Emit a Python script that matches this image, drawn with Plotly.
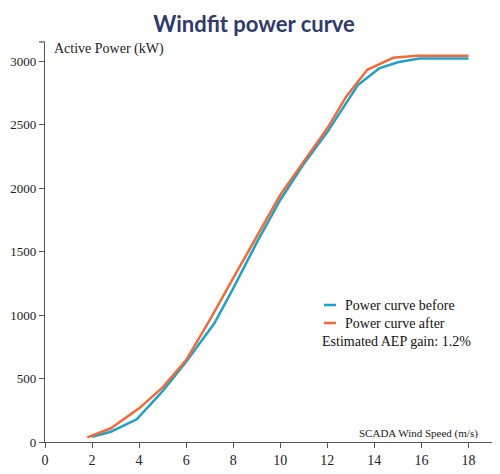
import plotly.graph_objects as go

wind_before = [2.0, 2.8, 3.9, 5.0, 6.0, 7.2, 8.0, 9.0, 10.0, 11.0, 12.0, 13.3, 14.2, 15.0, 15.9, 18.0]
power_before = [42, 81, 179, 400, 632, 935, 1210, 1570, 1906, 2190, 2440, 2811, 2942, 2990, 3020, 3020]

wind_after = [1.8, 2.8, 4.0, 5.0, 6.0, 7.0, 8.0, 9.0, 10.0, 11.0, 12.0, 12.8, 13.7, 14.8, 15.8, 18.0]
power_after = [37, 108, 265, 430, 645, 960, 1290, 1620, 1945, 2210, 2470, 2720, 2931, 3026, 3042, 3042]

x_ticks = [0, 2, 4, 6, 8, 10, 12, 14, 16, 18]
y_ticks = [0, 500, 1000, 1500, 2000, 2500, 3000]

BLUE = "#1fa2c7"
ORANGE = "#f26a3a"
AXIS = "#555555"
SERIF = "Liberation Serif"

OFF = 8  # page body margin
W, H = 500 - OFF, 474 - OFF
ML, MR, MT, MB = 45 - OFF, 16 - OFF, 42 - OFF, 32
PW, PH = W - ML - MR, H - MT - MB


def px(x):
    return (x - OFF - ML) / PW


def py(y):
    return (H - MB - (y - OFF)) / PH


fig = go.Figure()
fig.add_trace(go.Scatter(x=wind_before, y=power_before, mode="lines", name="Power curve before",
                         line=dict(color=BLUE, width=2.5), showlegend=False))
fig.add_trace(go.Scatter(x=wind_after, y=power_after, mode="lines", name="Power curve after",
                         line=dict(color=ORANGE, width=2.5), showlegend=False))

fig.update_layout(
    width=W, height=H,
    margin=dict(l=ML, r=MR, t=MT, b=MB, autoexpand=False),
    paper_bgcolor="white", plot_bgcolor="white",
    font=dict(family=SERIF, color="#222"),
    title=dict(text="<b>Windfit power curve</b>", x=0.5, xanchor="center", y=1 - (24 - OFF) / H,
               yanchor="middle", font=dict(family="Lato", size=22, color="#2e3b6b")),
    xaxis=dict(range=[0, 19], tickvals=x_ticks, showgrid=False, zeroline=False, showline=True,
               linecolor=AXIS, linewidth=1.2, ticks="outside", ticklen=5, tickcolor=AXIS,
               automargin=False, tickfont=dict(family=SERIF, size=14, color="#222")),
    yaxis=dict(range=[0, 3150], tickvals=y_ticks, showgrid=False, zeroline=False, showline=True,
               linecolor=AXIS, linewidth=1.2, ticks="outside", ticklen=5, tickcolor=AXIS,
               ticklabelstandoff=0,
               automargin=False, tickfont=dict(family=SERIF, size=13, color="#222")),
    shapes=[
        dict(type="line", xref="paper", yref="paper", x0=-6 / PW, x1=0, y0=1, y1=1,
             line=dict(color=AXIS, width=1.2)),
        dict(type="line", xref="paper", yref="paper", x0=px(324), x1=px(336), y0=py(305), y1=py(305),
             line=dict(color=BLUE, width=2.5)),
        dict(type="line", xref="paper", yref="paper", x0=px(324), x1=px(336), y0=py(323), y1=py(323),
             line=dict(color=ORANGE, width=2.5)),
    ],
    annotations=[
        dict(text="Active Power (kW)", xref="paper", yref="paper", x=px(52), y=py(49),
             xanchor="left", yanchor="middle", showarrow=False,
             font=dict(family=SERIF, size=14, color="#222")),
        dict(text="SCADA Wind Speed (m/s)", xref="paper", yref="paper", x=px(480), y=py(433),
             xanchor="right", yanchor="middle", showarrow=False,
             font=dict(family=SERIF, size=11, color="#222")),
        dict(text="Power curve before", xref="paper", yref="paper", x=px(343), y=py(305),
             xanchor="left", yanchor="middle", showarrow=False,
             font=dict(family=SERIF, size=14, color="#111")),
        dict(text="Power curve after", xref="paper", yref="paper", x=px(343), y=py(323),
             xanchor="left", yanchor="middle", showarrow=False,
             font=dict(family=SERIF, size=14, color="#111")),
        dict(text="Estimated AEP gain: 1.2%", xref="paper", yref="paper", x=px(320), y=py(341),
             xanchor="left", yanchor="middle", showarrow=False,
             font=dict(family=SERIF, size=14, color="#111")),
    ],
)

fig.write_html("out.html")
